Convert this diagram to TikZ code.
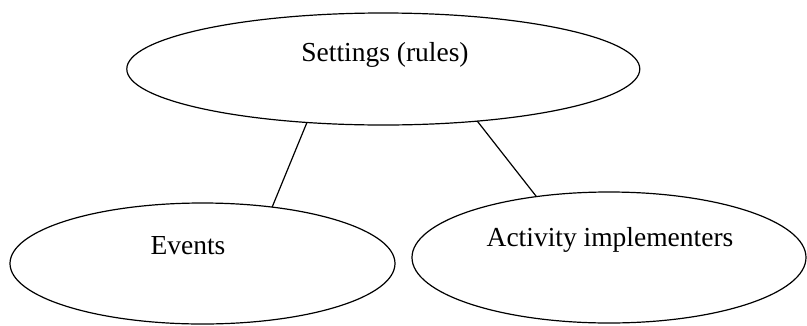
\documentclass[tikz,border=0pt]{standalone}
\usepackage{fontspec}
\setmainfont{Liberation Serif}
\usetikzlibrary{shapes.geometric}
\tikzset{
  oval/.style={draw=black, line width=1.2pt, ellipse, inner sep=0pt, outer sep=0pt},
  txt/.style={anchor=base, inner sep=0pt, font=\fontsize{27.5}{33}\selectfont},
  link/.style={draw=black, line width=1.2pt}
}
\begin{document}
\begin{tikzpicture}[x=1pt,y=-1pt]
\useasboundingbox (0,0) rectangle (807,325);
\node[oval, minimum width=513pt, minimum height=112pt] (settings) at (383.3,69) {};
\node[oval, minimum width=385pt, minimum height=121pt] (events) at (202.5,263.5) {};
\node[oval, minimum width=394pt, minimum height=131pt] (activity) at (609,257.5) {};
\node[txt] (settingsT) at (385,61.7) {Settings (rules)};
\node[txt] (eventsT) at (188,254) {Events};
\node[txt] (activityT) at (610,246) {Activity implementers};
\draw[link] (settings.215.1) -- (events.39.9);
\draw[link] (settings.331.7) -- (activity.140.65);
\end{tikzpicture}
\end{document}
